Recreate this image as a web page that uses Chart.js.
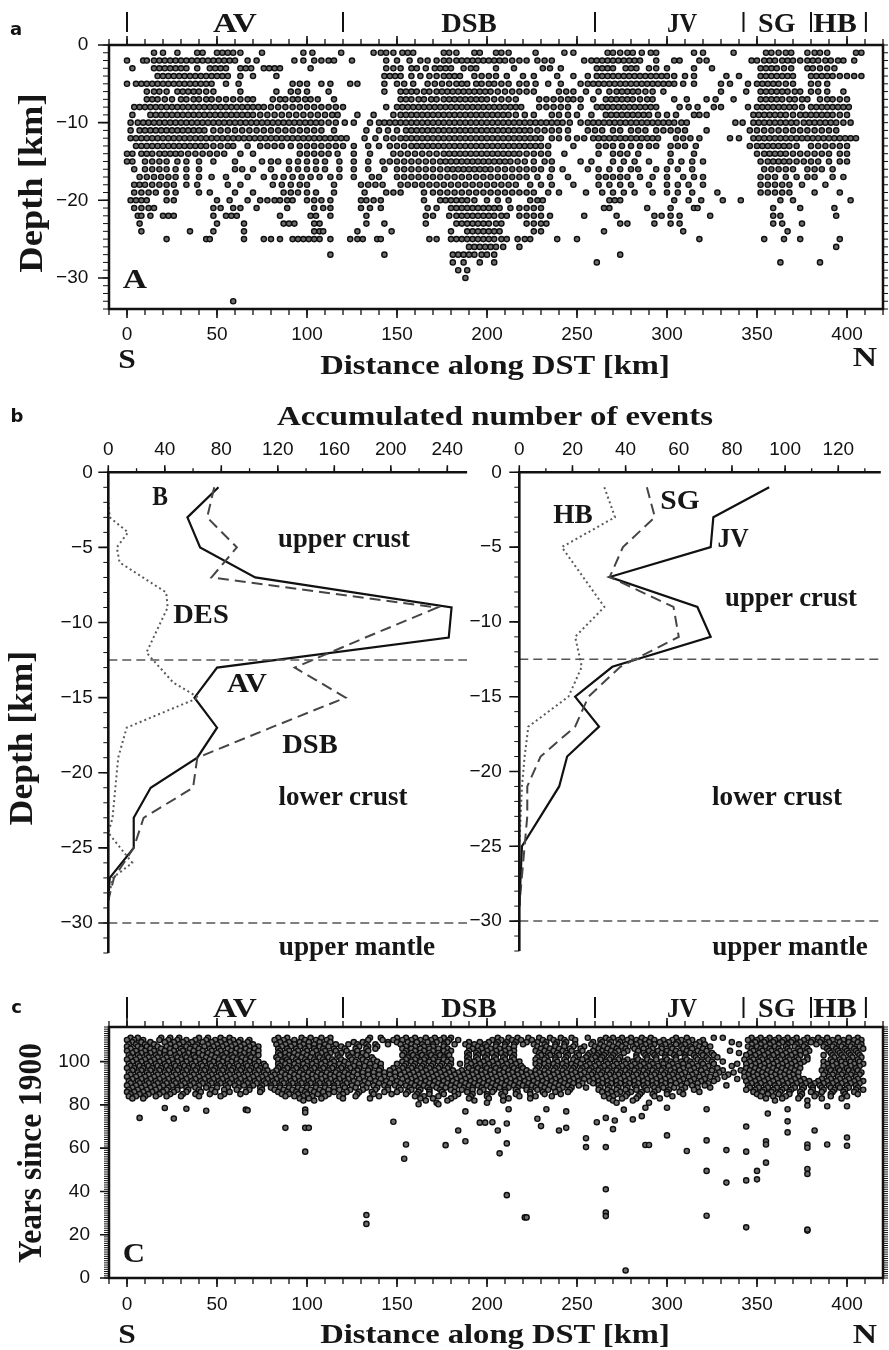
<!DOCTYPE html>
<html><head><meta charset="utf-8">
<script src="https://cdn.jsdelivr.net/npm/chart.js"></script>
<style>
html,body{margin:0;padding:0;background:#fff;}
body{position:relative;width:889px;height:1350px;overflow:hidden;}
canvas{position:absolute;}
.lbl{position:absolute;white-space:nowrap;line-height:1;font-family:"Liberation Serif","Times New Roman",serif;font-weight:bold;font-size:28px;color:#161616;}
.pl{position:absolute;white-space:nowrap;line-height:1;font-family:"DejaVu Sans",sans-serif;font-weight:bold;font-size:18px;color:#111;transform:translate(-50%,-50%);}
</style></head><body>
<canvas id="cA" width="889" height="400" style="left:0px;top:0px"></canvas>
<canvas id="cB1" width="480" height="600" style="left:0px;top:380px"></canvas>
<canvas id="cB2" width="469" height="600" style="left:420px;top:380px"></canvas>
<canvas id="cC" width="889" height="360" style="left:0px;top:990px"></canvas>
<script>
// ---------------- tick labels / categories ----------------
const xTicksKm = [0,50,100,150,200,250,300,350,400];
const yTicksDepthA = [0,-10,-20,-30];
const yTicksDepthB = [0,-5,-10,-15,-20,-25,-30];
const xTicksCountL = [0,40,80,120,160,200,240];
const xTicksCountR = [0,20,40,60,80,100,120];
const yTicksYears = [0,20,40,60,80,100];
const regionNames = ['AV','DSB','JV','SG','HB'];
const regionCentersKm = [60,190,308.5,361,393.5];
const regionBoundsKm = [0,120,260,342.5,380,410.5];

// ---------------- panel a: hypocentre depth rows (km along DST) ----------------
const depthRowsA = [-1,-2,-3,-4,-5,-6,-7,-8,-9,-10,-11,-12,-13,-14,-15,-16,-17,-18,-19,-20,-21,-22,-23,-24,-25,-26,-27,-28,-29,-30,-33];
const kmRowsA = [
[15,20,28,39,42,50,53,56,59,63,75,98,103,119,137,141,144,148,153,156,159,176,179,183,193,196,205,208,212,227,243,248,267,270,274,278,281,286,291,294,315,320,337,355,358,362,366,369,378,382,385,389,405,408],
[0,9,11,15,18,21,24,27,30,33,36,39,42,45,48,51,54,57,60,67,72,93,98,104,108,112,115,125,144,150,157,163,167,172,176,179,183,186,189,192,195,198,201,204,207,210,214,218,222,228,232,236,254,258,261,264,267,270,273,276,279,282,285,294,304,307,318,322,347,350,354,357,360,364,367,370,374,378,381,384,388,391,395,398,404],
[3,15,18,21,24,27,30,33,39,46,49,52,55,63,66,69,76,79,82,85,102,144,148,152,158,161,166,171,174,177,180,187,191,194,205,215,231,235,241,261,264,267,270,277,280,283,290,294,300,315,325,352,355,358,361,365,369,378,381,385,389,393],
[17,20,23,26,29,32,35,38,41,44,47,50,53,56,63,70,83,143,146,149,152,158,163,168,172,176,179,182,185,193,197,201,205,211,220,226,239,248,256,261,264,267,270,273,276,279,282,285,288,291,294,297,300,304,310,315,333,340,352,355,358,361,364,367,370,380,383,386,389,392,396,400,404,408],
[0,5,8,11,14,17,20,23,26,29,32,35,38,41,44,47,55,62,92,96,100,108,113,124,128,143,150,154,159,167,171,175,179,183,186,189,194,197,201,204,208,212,218,222,227,234,241,252,256,259,262,265,268,271,274,277,280,283,286,289,292,295,298,301,304,309,315,330,335,345,350,353,356,359,362,366,370,380,384,389],
[11,15,18,22,28,31,34,37,40,44,48,63,83,91,95,100,112,143,152,155,158,161,165,168,172,175,178,181,184,187,190,193,196,199,202,206,210,214,218,222,226,240,244,248,255,262,268,272,275,278,281,284,288,292,298,330,344,352,355,358,361,364,367,371,374,380,384,389,398],
[11,14,17,21,25,30,33,37,40,44,47,51,55,59,63,67,70,81,85,88,92,95,99,102,106,115,152,155,158,162,165,169,172,176,179,182,185,188,191,194,197,200,204,208,212,216,229,233,237,241,245,248,252,259,266,269,272,275,278,281,285,289,292,304,311,322,327,337,352,355,358,361,364,368,371,375,378,385,389,392,396,400],
[4,7,10,13,16,19,22,25,28,31,34,37,40,43,46,49,52,55,58,61,64,67,70,73,76,80,84,88,92,96,100,104,108,112,116,120,144,150,153,156,159,162,165,168,171,174,177,180,183,186,189,192,195,198,201,204,207,210,213,216,219,229,233,237,241,245,252,261,264,267,270,273,276,279,282,285,288,291,294,307,312,317,326,330,345,350,353,356,359,362,365,368,371,375,380,383,386,389,392,395,398,401],
[3,13,16,19,22,25,28,31,34,37,40,43,46,49,52,55,58,61,64,67,70,74,78,82,86,90,94,98,102,106,110,114,117,128,137,148,152,155,158,161,164,167,170,173,176,179,182,185,188,191,194,197,200,203,206,209,212,216,221,226,236,240,245,250,258,266,269,272,275,278,281,284,287,290,295,300,305,315,318,322,348,351,354,357,360,363,366,370,374,377,380,383,386,389,392,396,400],
[2,6,9,12,15,18,21,24,27,30,33,36,39,42,45,48,51,54,57,60,63,66,69,72,75,78,81,84,87,90,93,96,99,102,105,108,112,116,121,126,135,140,143,146,149,152,155,158,161,164,167,170,173,176,179,182,185,188,191,194,197,200,203,206,209,212,215,218,221,224,227,230,233,236,239,242,246,252,256,259,262,265,268,271,274,277,280,283,286,289,292,295,298,301,304,308,311,338,342,348,351,354,357,360,363,366,369,372,376,379,382,385,388,391,394,398,402],
[2,7,10,13,16,19,22,25,28,31,34,37,40,43,48,52,56,60,64,68,72,76,80,84,88,92,96,100,104,108,115,133,140,145,150,155,158,161,164,167,170,173,176,179,182,185,188,191,194,197,200,203,206,209,212,215,218,221,224,228,232,236,240,245,256,260,264,270,274,280,284,288,294,298,302,306,310,322,346,350,354,358,362,366,370,374,378,382,386,390,394],
[2,5,8,11,14,17,20,23,26,29,32,35,38,41,44,47,50,53,56,59,62,65,68,71,74,77,80,83,86,89,92,95,98,101,104,107,110,113,116,119,122,132,138,144,148,152,155,158,161,164,167,170,173,176,179,182,185,188,191,194,197,200,203,206,209,212,215,218,221,224,227,230,236,240,245,250,254,259,262,265,268,271,274,277,280,283,286,289,292,295,305,309,313,318,335,340,348,351,354,357,360,363,366,369,372,375,378,381,384,387,390,393,396,399,402,405],
[5,8,11,14,17,20,23,26,29,32,35,38,41,44,48,52,56,59,67,74,78,82,86,91,96,100,104,108,112,116,120,126,134,140,146,150,154,158,161,164,167,170,173,176,179,182,185,188,191,194,197,200,203,206,209,212,215,218,221,224,227,230,234,248,262,266,270,275,280,285,290,294,302,306,310,316,346,350,353,356,359,362,365,368,372,380,384,388,392,396,400],
[0,3,8,11,14,18,21,24,27,30,34,38,42,46,50,54,63,70,96,100,104,108,112,117,126,135,148,152,156,160,164,168,172,176,179,182,185,188,191,194,197,200,203,206,209,212,215,218,222,226,230,234,243,262,270,274,278,284,302,315,350,354,357,360,363,366,370,374,378,382,386,390,396,400],
[0,3,10,14,18,22,28,33,40,48,60,75,80,84,90,95,100,105,110,118,126,134,142,146,150,154,158,162,166,170,174,177,180,183,186,189,192,195,198,201,204,207,210,213,217,221,226,232,236,252,258,270,276,282,290,302,308,314,320,352,356,359,362,365,368,372,376,380,384,390,396,400],
[4,10,14,18,22,27,33,40,60,64,70,80,90,95,100,105,110,118,126,134,143,150,154,158,162,166,170,174,178,181,184,187,190,193,196,199,202,206,210,214,218,222,226,230,236,242,256,262,268,274,280,284,294,300,306,314,354,358,362,366,370,378,382,386,392],
[7,11,15,19,23,27,33,40,47,55,67,76,82,87,92,97,102,107,113,118,126,136,140,150,154,158,162,166,170,174,178,182,186,190,194,198,202,206,210,214,218,222,228,235,245,262,266,270,274,278,285,292,300,309,315,320,352,356,360,366,372,378,382,392,398],
[4,7,10,14,18,22,26,33,39,56,63,81,86,91,96,100,115,130,134,138,142,152,156,160,164,168,172,176,180,184,188,192,196,200,204,208,212,216,224,230,236,248,262,268,274,280,290,300,306,312,320,352,356,360,364,368,375,388],
[4,8,12,16,22,27,40,46,60,70,87,91,95,100,105,115,132,144,148,152,165,170,174,178,182,186,190,194,198,202,206,210,214,218,222,226,234,240,255,264,270,276,282,292,300,306,314,328,352,356,360,364,368,382,396],
[2,5,8,11,22,26,50,57,67,74,78,82,85,89,92,100,104,108,113,130,133,137,141,165,174,177,180,183,186,189,193,200,206,212,224,228,231,268,271,274,304,312,319,331,341,363,370,402],
[4,8,12,15,48,52,59,63,72,89,104,109,113,130,135,141,167,172,180,183,186,189,192,195,198,201,204,207,213,218,222,226,230,265,268,289,302,315,317,359,374,393],
[6,8,13,20,23,26,48,55,58,61,85,102,105,113,133,166,170,179,183,186,189,192,195,198,201,204,208,211,218,222,226,230,235,254,272,293,297,302,307,324,359,363,394],
[7,50,65,87,90,93,104,107,133,143,166,183,186,189,192,195,198,201,205,208,222,226,230,233,274,278,293,302,307,359,364,375],
[8,35,48,65,104,107,109,128,147,180,189,192,195,198,201,204,207,226,230,265,309,367],
[22,44,46,65,76,80,85,92,95,98,101,104,107,113,124,128,131,139,141,168,172,180,183,186,189,192,195,198,201,204,208,211,217,221,224,239,250,318,354,365,374,396],
[190,193,196,199,202,205,209,218,394],
[113,143,181,184,187,190,193,197,200,204,274],
[181,187,196,204,261,363,385],
[184,189],
[188],
[59]
];

// ---------------- panel b: accumulated number of events per depth ----------------
const depthsB = [-1,-3,-5,-7,-9,-11,-13,-15,-17,-19,-21,-23,-25,-27,-28.5];
const countsAV = [78,56,65,104,243,241,77,61,77,63,30,18,18,1,0];
const countsDSB = [75,70,91,73,233,182,132,168,115,63,60,25,18,4,0];
const depthsDES = [-2,-3,-4,-5,-6,-8,-9,-10,-12,-14,-15,-17,-19,-23,-24,-26,-27,-28.5];
const countsDES = [0,1,14,6,8,41,42,37,27,46,64,13,7,3,0,17,3,0];
const depthsR = [-1,-3,-5,-7,-9,-11,-13,-15,-17,-19,-21,-23,-25,-27,-29];
const countsJV = [94,73,72,34,67,72,35,21,30,18,15,8,1,0.5,0];
const countsSG = [48,51,39,34,58,60,38,26,21,8,3,3,2,1,0];
const countsHB = [32,36,16,24,32,21,23.5,18.5,3.4,2,1,0.5,0,0,0];
const boundaryDepths = [-12.5,-30];

// ---------------- panel c: event years along DST ----------------
const yearRowsC = [111,110,109,108,107,106,105,104,103,102,101,100,99,98,97,96,95,94,93,92,91,90,89,88,87,86,85,84,83,82,81];
const kmRowsC = [
[2,6,19,24,29,40,45,52,57,84,89,97,102,108,113,135,141,150,155,160,166,171,176,180,206,212,217,223,229,235,241,247,256,266,270,275,280,286,291,305,311,326,331,347,352,357,362,367,372,378,384,389,395,401,406],
[0,4,9,18,23,28,33,38,44,49,54,59,63,68,82,87,93,99,105,111,134,142,148,153,158,163,169,174,179,184,203,208,214,219,225,231,237,243,249,263,268,273,278,283,288,293,298,303,308,314,320,345,350,355,360,365,370,376,381,386,392,398,404,408],
[3,8,13,21,26,31,36,42,47,52,57,62,67,85,90,96,101,107,113,126,131,145,150,156,161,167,172,178,190,196,201,206,211,216,222,228,233,239,244,259,264,269,274,280,285,290,296,301,306,312,318,336,349,354,359,364,369,374,380,385,390,396,401,406],
[1,5,10,15,24,29,34,39,45,50,55,60,65,70,83,88,93,98,104,110,116,123,128,133,138,145,152,158,164,170,176,182,188,193,199,205,210,215,220,226,232,238,243,249,258,263,268,273,277,283,288,293,299,305,310,316,321,340,347,352,357,362,367,372,377,383,388,393,398,403,408],
[0,6,11,17,22,27,33,38,43,48,53,58,63,68,73,86,91,96,101,107,112,119,129,134,139,155,160,165,170,176,190,195,200,205,210,215,228,233,238,243,248,254,260,265,270,275,281,286,291,297,302,308,313,318,324,345,350,355,360,366,371,376,387,392,397,402,407],
[2,8,13,19,24,30,35,40,46,51,56,61,66,71,84,89,94,99,104,109,115,121,127,133,138,153,158,163,168,173,178,192,197,202,207,212,230,235,240,246,252,262,267,272,277,282,287,292,297,303,309,314,320,347,352,357,362,367,373,378,389,394,399,404,409],
[0,5,10,15,21,26,31,37,42,47,52,58,63,68,73,85,90,95,100,105,110,116,122,128,134,155,160,165,170,176,180,190,195,200,205,210,215,227,232,237,242,247,253,259,264,269,273,278,284,290,295,300,305,311,317,322,335,348,353,358,363,368,374,379,390,395,400,405],
[3,8,13,18,24,29,34,40,45,50,55,60,65,70,84,88,93,98,103,108,113,119,125,131,154,158,163,168,173,178,189,194,198,203,208,213,229,234,239,244,250,257,262,266,271,276,287,292,297,302,307,313,319,325,340,346,351,356,361,366,371,377,391,396,401,406],
[1,6,11,16,21,27,32,37,42,47,53,58,63,68,73,85,90,95,100,106,111,117,123,128,133,153,159,164,169,174,179,190,195,200,205,210,215,230,235,240,245,251,256,261,265,270,283,288,293,299,304,310,315,320,326,344,349,354,359,364,369,374,387,392,397,402,407],
[2,7,12,17,22,28,33,38,44,49,54,59,64,69,83,88,92,97,102,107,112,118,124,130,136,156,161,166,171,176,189,194,199,204,209,214,228,233,238,244,249,255,260,264,269,274,283,289,294,299,305,310,316,322,328,347,352,357,362,367,372,378,393,398,403,408],
[0,5,10,15,20,25,30,35,40,46,51,56,61,66,71,84,89,94,99,104,109,114,119,125,131,137,155,160,165,170,176,180,190,195,200,205,210,215,227,232,238,243,248,253,258,263,268,273,278,284,289,294,300,305,311,317,323,343,348,353,358,363,368,373,378,391,396,401,406],
[3,8,13,18,23,28,33,38,43,48,53,58,63,68,73,86,90,95,100,105,110,115,121,127,133,139,153,158,163,168,173,178,189,193,198,203,208,213,218,229,234,239,244,250,256,261,266,271,276,281,286,291,297,302,308,313,319,325,331,346,351,356,361,366,371,376,387,392,397,402,407],
[1,6,11,16,21,26,31,36,41,46,51,56,61,66,71,76,84,88,93,98,103,108,113,118,123,129,135,141,150,155,160,165,170,175,180,185,191,196,201,206,211,216,227,232,237,242,247,252,257,262,267,272,277,282,287,292,298,303,309,314,320,326,339,344,349,354,359,364,369,374,389,394,399,404,409],
[2,7,12,17,22,27,32,37,42,47,52,57,62,67,72,77,85,90,95,100,105,110,115,120,126,132,138,154,159,164,169,174,179,189,194,199,204,209,214,219,229,234,239,244,249,255,260,265,270,275,280,285,290,295,301,306,312,317,323,336,347,352,357,362,367,372,387,392,397,402,407],
[0,4,9,14,19,24,29,34,39,44,49,54,59,64,69,74,84,89,94,99,104,109,114,119,124,129,135,141,148,153,158,163,168,173,178,190,195,200,205,210,215,220,228,233,238,243,248,253,258,263,268,273,278,283,288,293,298,304,309,315,321,328,344,349,354,359,364,369,374,390,395,400,405],
[3,8,13,18,23,28,33,38,43,48,53,58,63,68,73,78,83,87,92,97,102,107,112,117,122,128,134,140,146,151,156,161,166,171,176,181,186,192,197,202,207,212,217,222,227,232,237,242,247,252,257,262,267,272,277,282,287,292,297,302,307,313,319,325,331,341,346,351,356,361,366,371,386,391,396,401,406],
[1,6,11,16,21,26,31,36,41,46,51,56,61,66,71,76,81,86,91,96,101,106,111,116,121,126,131,137,143,149,154,159,164,169,174,179,184,189,194,199,204,209,214,219,224,229,234,239,244,249,254,259,264,269,274,279,284,289,294,299,304,310,316,322,329,337,343,348,353,358,363,368,373,388,393,398,403,408],
[2,7,12,17,22,27,32,37,42,47,52,57,62,67,72,77,82,88,93,98,103,108,113,118,123,128,134,140,146,152,157,162,167,172,177,182,187,192,197,202,207,212,217,222,227,232,237,242,247,252,258,263,268,273,278,283,288,293,298,303,308,314,320,327,334,345,350,355,360,365,370,387,392,397,402,407],
[0,5,10,15,20,25,30,35,40,45,50,55,60,65,70,75,80,85,90,95,100,105,110,115,120,125,131,137,143,149,155,160,165,170,175,180,185,190,195,200,205,210,215,220,225,230,235,240,245,250,256,261,266,271,276,281,286,291,296,301,306,312,318,324,332,343,348,353,358,363,368,373,390,395,400,405],
[3,8,13,18,23,28,33,38,43,48,53,58,63,68,73,78,83,88,93,98,103,108,113,118,123,129,135,141,147,153,158,163,168,173,178,183,188,193,198,203,208,213,218,223,228,233,238,243,248,254,259,264,269,274,279,284,289,294,299,304,309,315,321,328,339,346,351,356,361,366,371,376,386,391,396,401,406],
[1,6,11,16,21,26,31,36,41,46,51,56,61,66,71,76,81,86,91,96,101,106,111,116,121,126,132,138,144,150,156,161,166,171,176,181,186,191,196,201,206,211,216,221,226,231,236,241,246,251,257,262,267,272,277,282,287,292,297,302,307,313,319,326,344,349,354,359,364,369,374,379,384,389,394,399,404,409],
[2,7,12,17,22,27,32,37,42,47,52,57,62,67,72,77,82,87,92,97,102,107,112,117,122,128,134,140,146,152,158,163,168,173,178,183,188,193,198,203,208,213,218,223,228,233,238,243,248,253,259,264,269,274,279,284,289,294,299,305,311,317,323,347,352,357,362,367,372,377,382,387,392,397,402,407],
[0,5,10,15,20,25,30,35,40,45,50,55,60,65,70,75,80,85,90,95,100,105,110,115,120,125,131,137,143,149,155,160,165,170,175,180,185,190,195,200,205,210,215,220,225,230,235,240,245,251,262,267,272,277,282,287,292,297,302,308,314,321,333,345,350,355,360,365,370,375,380,385,390,395,400,405],
[3,8,13,18,23,28,33,38,44,50,56,62,68,74,80,85,90,95,100,105,110,115,121,127,133,139,145,151,157,162,167,172,177,182,187,192,197,202,207,212,217,222,227,232,237,242,247,255,263,268,273,278,283,288,293,298,304,310,317,324,346,351,356,361,366,371,376,381,386,391,396,401,406],
[1,6,11,16,22,28,34,40,47,54,61,68,75,82,87,92,97,102,107,112,118,124,131,138,145,152,158,163,168,174,180,186,192,198,204,210,216,222,228,234,240,246,262,267,272,277,283,289,295,301,308,315,344,349,354,359,364,369,375,381,387,393,399,405,409],
[0,4,9,14,20,26,33,41,49,57,66,74,84,89,94,99,104,109,115,122,129,136,143,150,156,162,168,175,182,189,196,203,210,217,224,231,238,245,264,269,274,280,286,293,300,307,318,348,353,358,363,368,374,380,386,392,398,404],
[2,7,12,18,24,31,38,46,54,63,86,90,95,100,106,112,120,128,137,147,155,161,168,176,184,192,200,208,216,224,232,241,267,272,278,285,292,300,309,350,356,362,368,375,383,391,399,406],
[1,5,10,16,22,30,40,52,88,93,98,103,110,118,127,140,160,165,173,182,191,200,209,218,227,236,265,270,277,284,293,303,352,359,366,374,382,391,400],
[3,9,96,101,108,120,135,163,170,180,190,201,212,224,268,275,283,296,355,364,373,386,397],
[98,104,166,178,193,209,270,281,360,378],
[172,200,272,290]
];
const outlierKmC = [7,21,26,33,44,66,67,88,99,99,99,101,99,133,133,148,155,154,162,173,177,184,188,188,196,199,203,206,207,211,211,212,211,221,222,228,230,233,240,244,244,255,255,261,266,266,266,266,266,270,271,276,277,281,286,288,290,288,300,300,311,322,322,322,322,333,333,344,344,344,344,350,350,355,355,355,356,367,367,367,378,378,378,378,378,378,378,382,389,389,400,400,400];
const outlierYearC = [74,78.6,73.7,78.2,77.3,77.8,77.5,69.4,77.8,76.5,69.4,69.4,58.4,29.1,25,72.2,61.7,55.1,80.3,80.3,61.4,68.2,63.2,77,71.8,71.8,72,68.2,57.6,62.2,71.4,78,38.3,28,28,73.6,70.2,78,68.2,69.4,77,64.6,60.5,72,74,60.5,41,30.2,28.6,68.8,72.8,77.8,3.5,73.3,74.8,61.5,61.5,78.7,65.9,78.7,58.7,78,63.6,49.5,28.8,59.1,44.1,70,58.4,45.1,23.4,49.5,45.6,53.3,63.2,61.7,76,78,72.4,67.3,79.7,61.7,60.2,50.4,48.1,21.9,22.4,68.2,79.4,61.7,79.4,64.9,61.1];

// ---------------- helpers ----------------
const tickFont = {family:'"Liberation Sans", Arial, sans-serif', size:19};
function fmt(v){ return v < 0 ? '\u2212' + Math.abs(v) : String(v); }
function axisX(min, max, ticks, pos, h, pad){
  return {type:'linear', position:pos, min:min, max:max,
    grid:{display:false, drawTicks:false, tickLength:0}, border:{display:false},
    ticks:{padding:pad, font:tickFont, color:'#111', maxRotation:0, autoSkip:false, callback:(v)=>fmt(v)},
    afterBuildTicks:(s)=>{ s.ticks = ticks.map(v=>({value:v})); },
    afterFit:(s)=>{ s.height = h; }};
}
function axisY(min, max, ticks, w, pad){
  return {type:'linear', position:'left', min:min, max:max,
    grid:{display:false, drawTicks:false, tickLength:0}, border:{display:false},
    ticks:{padding:pad, font:tickFont, color:'#111', autoSkip:false, callback:(v)=>fmt(v)},
    afterBuildTicks:(s)=>{ s.ticks = ticks.map(v=>({value:v})); },
    afterFit:(s)=>{ s.width = w; }};
}
const framePlugin = {
  id:'frame',
  afterDraw(chart, args, o){
    const ctx = chart.ctx, a = chart.chartArea, sc = chart.scales;
    ctx.save();
    ctx.strokeStyle = '#111';
    for (const t of (o.ticks || [])) {
      const s = sc[t.axis];
      const n0 = Math.ceil(s.min / t.step - 1e-6), n1 = Math.floor(s.max / t.step + 1e-6);
      ctx.lineWidth = t.w;
      ctx.beginPath();
      for (let n = n0; n <= n1; n++) {
        const p = s.getPixelForValue(n * t.step);
        if (t.side === 'left') { ctx.moveTo(a.left, p); ctx.lineTo(a.left - t.len, p); }
        else if (t.side === 'right') { ctx.moveTo(a.right, p); ctx.lineTo(a.right + t.len, p); }
        else if (t.side === 'top') { ctx.moveTo(p, a.top); ctx.lineTo(p, a.top - t.len); }
        else { ctx.moveTo(p, a.bottom); ctx.lineTo(p, a.bottom + t.len); }
      }
      ctx.stroke();
    }
    ctx.lineWidth = o.lw;
    ctx.beginPath();
    if (o.full) { ctx.rect(a.left, a.top, a.right - a.left, a.bottom - a.top); }
    else { ctx.moveTo(a.left, a.bottom); ctx.lineTo(a.left, a.top); ctx.lineTo(a.right, a.top); }
    ctx.stroke();
    if (o.bounds) {
      ctx.lineWidth = 2;
      ctx.beginPath();
      for (const b of o.bounds) {
        const p = sc.x.getPixelForValue(b);
        ctx.moveTo(p, a.top - o.sep[0]); ctx.lineTo(p, a.top - o.sep[1]);
      }
      ctx.stroke();
    }
    ctx.restore();
  }
};
const baseOpts = {responsive:false, animation:false, devicePixelRatio:1, events:[],
  plugins:{legend:{display:false}, tooltip:{enabled:false}}};
function ptStyle(){ return {pointRadius:2.6, pointBorderWidth:1.4, pointBorderColor:'#0e0e0e', pointBackgroundColor:'#6e6e6e', showLine:false}; }

// ---------------- panel a ----------------
const ptsA = [];
depthRowsA.forEach((d, i) => kmRowsA[i].forEach(k => ptsA.push({x:k, y:d})));
const chartA = new Chart(document.getElementById('cA'), {
  type:'scatter',
  data:{datasets:[Object.assign({data:ptsA}, ptStyle())]},
  options:Object.assign({}, baseOpts, {
    layout:{autoPadding:false, padding:{left:0, top:45, right:6, bottom:0}},
    scales:{x:axisX(-10, 420, xTicksKm, 'bottom', 91, 14.6), y:axisY(-34, 0, yTicksDepthA, 109, 20.7)},
    plugins:Object.assign({}, baseOpts.plugins, {frame:{full:true, lw:2.5, bounds:regionBoundsKm, sep:[33,13],
      ticks:[{axis:'y',side:'left',step:1,len:6,w:1},{axis:'y',side:'left',step:10,len:11,w:1.6},
             {axis:'y',side:'right',step:1,len:5,w:1},
             {axis:'x',side:'top',step:10,len:6,w:1.3},{axis:'x',side:'top',step:50,len:9,w:1.6},
             {axis:'x',side:'bottom',step:10,len:6,w:1.3},{axis:'x',side:'bottom',step:50,len:9,w:1.6}]}})
  }),
  plugins:[framePlugin]
});

// ---------------- panel b ----------------
function zip(xs, ys){ return xs.map((x, i) => ({x:x, y:ys[i]})); }
function lineDs(data, color, width, dash){ return {data:data, showLine:true, borderColor:color, borderWidth:width, borderDash:dash, pointRadius:0, fill:false, tension:0}; }
function refDs(maxX){ return boundaryDepths.map(d => lineDs([{x:0, y:d}, {x:maxX, y:d}], '#555', 1.5, [9,5])); }
const maxL = 254, maxR = 136;
const chartB1 = new Chart(document.getElementById('cB1'), {
  type:'scatter',
  data:{datasets:[...refDs(maxL),
    lineDs(zip(countsDES, depthsDES), '#5a5a5a', 2, [2,3]),
    lineDs(zip(countsDSB, depthsB), '#454545', 2, [11,6]),
    lineDs(zip(countsAV, depthsB), '#111', 2.2, [])]},
  options:Object.assign({}, baseOpts, {
    layout:{autoPadding:false, padding:{left:0, top:0, right:12.9, bottom:24.8}},
    scales:{x:axisX(0, maxL, xTicksCountL, 'top', 92.3, 10.9), y:axisY(-32, 0, yTicksDepthB, 108.3, 15.6)},
    plugins:Object.assign({}, baseOpts.plugins, {frame:{full:false, lw:2.6,
      ticks:[{axis:'y',side:'left',step:1,len:5,w:1},{axis:'y',side:'left',step:5,len:10,w:1.6},
             {axis:'x',side:'top',step:20,len:4,w:1.3},{axis:'x',side:'top',step:40,len:7,w:1.6}]}})
  }),
  plugins:[framePlugin]
});
const chartB2 = new Chart(document.getElementById('cB2'), {
  type:'scatter',
  data:{datasets:[...refDs(maxR),
    lineDs(zip(countsHB, depthsR), '#5a5a5a', 2, [2,3]),
    lineDs(zip(countsSG, depthsR), '#454545', 2, [11,6]),
    lineDs(zip(countsJV, depthsR), '#111', 2.2, [])]},
  options:Object.assign({}, baseOpts, {
    layout:{autoPadding:false, padding:{left:0, top:0, right:8.2, bottom:24.8}},
    scales:{x:axisX(0, maxR, xTicksCountR, 'top', 92.3, 10.9), y:axisY(-32, 0, yTicksDepthB, 99.3, 17.6)},
    plugins:Object.assign({}, baseOpts.plugins, {frame:{full:false, lw:2.6,
      ticks:[{axis:'y',side:'left',step:1,len:5,w:1},{axis:'y',side:'left',step:5,len:10,w:1.6},
             {axis:'x',side:'top',step:10,len:4,w:1.3},{axis:'x',side:'top',step:20,len:7,w:1.6}]}})
  }),
  plugins:[framePlugin]
});

// ---------------- panel c ----------------
const ptsC = [];
yearRowsC.forEach((yr, i) => kmRowsC[i].forEach(k => ptsC.push({x:k, y:yr})));
outlierKmC.forEach((k, i) => ptsC.push({x:k, y:outlierYearC[i]}));
const chartC = new Chart(document.getElementById('cC'), {
  type:'scatter',
  data:{datasets:[Object.assign({data:ptsC}, ptStyle())]},
  options:Object.assign({}, baseOpts, {
    layout:{autoPadding:false, padding:{left:0, top:37, right:6, bottom:0}},
    scales:{x:axisX(-10, 420, xTicksKm, 'bottom', 72, 15.1), y:axisY(0, 116, yTicksYears, 109, 19)},
    plugins:Object.assign({}, baseOpts.plugins, {frame:{full:true, lw:2.5, bounds:regionBoundsKm, sep:[30,9],
      ticks:[{axis:'y',side:'left',step:1,len:5,w:1},{axis:'y',side:'left',step:20,len:9,w:1.6},
             {axis:'y',side:'right',step:1,len:5,w:1},
             {axis:'x',side:'top',step:10,len:6,w:1.3},{axis:'x',side:'top',step:50,len:9,w:1.6},
             {axis:'x',side:'bottom',step:10,len:6,w:1.3},{axis:'x',side:'bottom',step:50,len:9,w:1.6}]}})
  }),
  plugins:[framePlugin]
});

// ---------------- text labels ----------------
function addLabel(text, cx, cy, w, opt){
  opt = opt || {};
  const d = document.createElement('div');
  d.className = opt.cls || 'lbl';
  d.textContent = text;
  if (opt.size) d.style.fontSize = opt.size + 'px';
  d.style.left = cx + 'px'; d.style.top = cy + 'px';
  document.body.appendChild(d);
  if (opt.cls === 'pl') return;
  const sx = w ? (w / d.offsetWidth) : 1;
  d.style.transform = 'translate(-50%,-50%)' + (opt.rot ? ' rotate(-90deg)' : '') + ' scaleX(' + sx.toFixed(3) + ')';
}
const regionWidths = [44,55,30,37,43];
function regionLabels(chart, cy){
  const xs = chart.scales.x;
  regionNames.forEach((n, i) => addLabel(n, xs.getPixelForValue(regionCentersKm[i]), cy, regionWidths[i]));
}
// panel a
addLabel('a', 16, 28.7, 0, {cls:'pl'});
regionLabels(chartA, 22.5);
addLabel('Depth [km]', 31, 182.5, 179, {rot:true, size:33});
addLabel('A', 135, 279, 24);
addLabel('S', 127, 359, 18);
addLabel('Distance along DST [km]', 495, 364.5, 350);
addLabel('N', 865, 357, 24);
// panel b
addLabel('b', 17, 416, 0, {cls:'pl'});
addLabel('Accumulated number of events', 495, 415.5, 436);
addLabel('Depth [km]', 21, 738, 174, {rot:true, size:33});
addLabel('B', 160, 495.5, 16);
addLabel('upper crust', 344, 538.2, 132);
addLabel('DES', 200.5, 614, 55);
addLabel('AV', 247, 682.5, 40);
addLabel('DSB', 309.5, 744, 55);
addLabel('lower crust', 342.5, 795.5, 129);
addLabel('upper mantle', 356.5, 945.5, 157);
addLabel('HB', 572.5, 514, 39);
addLabel('SG', 679.5, 500, 39);
addLabel('JV', 732.5, 538, 31);
addLabel('upper crust', 791, 597.2, 132);
addLabel('lower crust', 777, 795.5, 130);
addLabel('upper mantle', 790, 945.5, 156);
// panel c
addLabel('c', 16.5, 1006.7, 0, {cls:'pl'});
regionLabels(chartC, 1007.5);
addLabel('Years since 1900', 30, 1153, 220, {rot:true, size:33});
addLabel('C', 134, 1253, 22);
addLabel('S', 127, 1334, 18);
addLabel('Distance along DST [km]', 495, 1333.5, 350);
addLabel('N', 864.5, 1334, 24);
</script>
</body></html>
